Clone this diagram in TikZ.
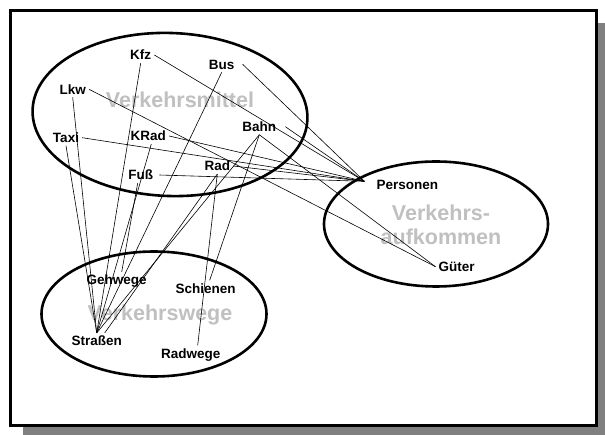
\documentclass[tikz,border=0pt]{standalone}
\usepackage{fontspec}
\setmainfont{Liberation Sans}
\definecolor{haze}{RGB}{192,192,192}
\definecolor{shadowgray}{RGB}{128,128,128}
\begin{document}
\begin{tikzpicture}[x=1pt,y=-1pt,
  lbl/.style={font=\bfseries\fontsize{13.5}{15}\selectfont, inner sep=3pt,
              text height=9.7pt, text depth=0pt},
  big/.style={font=\bfseries\fontsize{21.5}{23.4}\selectfont, text=haze,
              align=center, inner sep=0pt},
  ring/.style={line width=2.6pt},
  link/.style={line width=0.6pt}]
\useasboundingbox (0,0) rectangle (605,435);

% framed sheet with drop shadow
\fill[shadowgray] (23,23) rectangle (605,435);
\draw[line width=3pt, fill=white] (10,10.3) rectangle (596.3,425.5);

% set titles
\node[big] (tMittel) at (180,100) {Verkehrsmittel};
\node[big] (tWege) at (160,314.5) {Verkehrswege};
\node[big] (tAufk) at (441,225) {Verkehrs-\\aufkommen};

% the three sets
\draw[ring, rotate around={-2:(170,114.5)}] (170,114.5) ellipse [x radius=137.5pt, y radius=81.5pt];
\draw[ring] (154,314) ellipse [x radius=112.5pt, y radius=62.5pt];
\draw[ring] (436,224) ellipse [x radius=112pt, y radius=62.5pt];

% elements
\node[lbl] (Kfz) at (140.7,55) {Kfz};
\node[lbl] (Bus) at (221.7,64.3) {Bus};
\node[lbl] (Lkw) at (72.7,89.3) {Lkw};
\node[lbl] (Bahn) at (259.3,126.7) {Bahn};
\node[lbl] (Taxi) at (66,137.7) {Taxi};
\node[lbl] (KRad) at (148.3,136) {KRad};
\node[lbl] (Rad) at (217.3,166) {Rad};
\node[lbl] (Fuss) at (140.7,175) {Fuß};
\node[lbl] (Personen) at (407.3,184.3) {Personen};
\node[lbl] (Gueter) at (456.7,266.7) {Güter};
\node[lbl] (Gehwege) at (116.7,280) {Gehwege};
\node[lbl] (Schienen) at (205.7,288.3) {Schienen};
\node[lbl] (Strassen) at (96.7,341) {Straßen};
\node[lbl] (Radwege) at (190.7,353.3) {Radwege};

\coordinate (pin) at ([xshift=-9pt,yshift=3pt]Personen.west);

% means -> volume
\draw[link] (Kfz.east) -- (pin);
\draw[link] ([xshift=5pt]Bus.east) -- (pin);
\draw[link] ([xshift=6pt]Bahn.east) -- (pin);
\draw[link] (KRad.east) -- (pin);
\draw[link] (Taxi.east) -- (pin);
\draw[link] ([xshift=3pt]Fuss.east) -- (pin);
\draw[link] (Rad.east) -- (pin);
\draw[link] (Lkw.east) -- (Gueter.west);
\draw[link] (Bahn.south) -- (Gueter.west);

% means -> ways
\draw[link] (Taxi.south) -- (Strassen.north);
\draw[link] (Lkw.south) -- (Strassen.north);
\draw[link] (Kfz.south) -- (Strassen.north);
\draw[link] ([xshift=3pt]KRad.south) -- (Strassen.north);
\draw[link] (Bus.south) -- (Strassen.north);
\draw[link] (Bahn.south) -- (Strassen.north);
\draw[link] (Rad.south) -- ([xshift=8pt]Strassen.north);
\draw[link] ([xshift=-3pt]Fuss.south) -- ([xshift=5pt]Gehwege.north);
\draw[link] (Bahn.south) -- ([xshift=4pt]Schienen.north);
\draw[link] (Rad.south) -- ([xshift=7pt]Radwege.north);
\end{tikzpicture}
\end{document}
